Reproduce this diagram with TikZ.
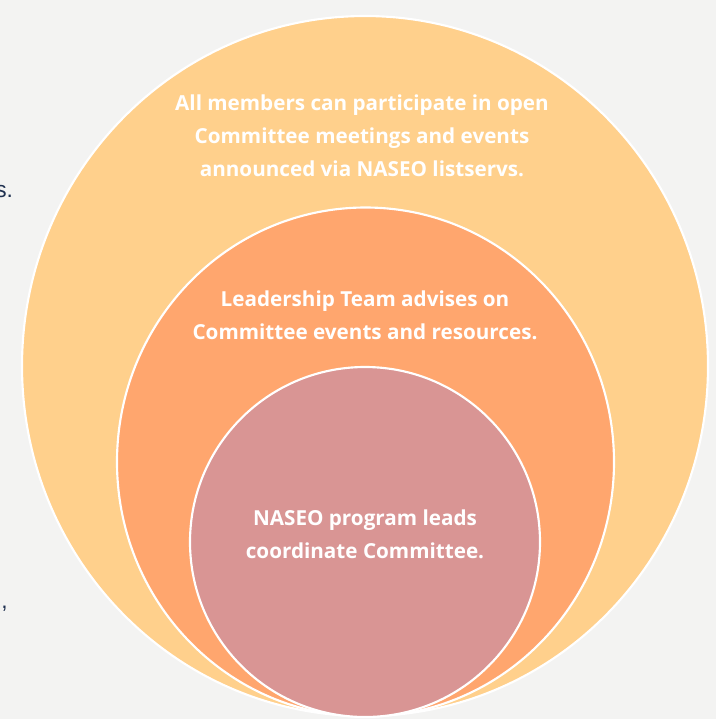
\documentclass[tikz,border=0pt]{standalone}
\usepackage{fontspec}
\setmainfont{Open Sans}
\newfontfamily\fragfont{Liberation Sans}
\definecolor{bgc}{HTML}{F3F3F2}
\definecolor{outerc}{HTML}{FFD08C}
\definecolor{midc}{HTML}{FFA66E}
\definecolor{innerc}{HTML}{D99594}
\definecolor{navy}{HTML}{1F3050}
\tikzset{
  ring/.style={draw=white, line width=1.6pt},
  lbl/.style={text=white, font=\fontsize{15.5}{24.6}\selectfont\bfseries, align=center, inner sep=0pt},
  frag/.style={text=navy, font=\fragfont\fontsize{17}{20}\selectfont, anchor=base west, inner sep=0pt}
}
\begin{document}
\begin{tikzpicture}[x=0.75pt,y=-0.75pt]
\useasboundingbox (0,0) rectangle (716,719);
\clip (0,0) rectangle (716,719);
\fill[bgc] (0,0) rectangle (716,719);
\node[frag] (f1) at (-5,197) {s.};
\node[frag] (f2) at (1,608) {,};
\draw[ring, fill=outerc] (365,366) ellipse [x radius=343, y radius=350];
\draw[ring, fill=midc] (365.5,462) ellipse [x radius=248.5, y radius=254.5];
\draw[ring, fill=innerc] (365,542) ellipse [x radius=175, y radius=175];
\node[lbl] (t1) at (362,136) {All members can participate in open\\Committee meetings and events\\announced via NASEO listservs.};
\node[lbl] (t2) at (365,315.5) {Leadership Team advises on\\Committee events and resources.};
\node[lbl] (t3) at (365,534.5) {NASEO program leads\\coordinate Committee.};
\end{tikzpicture}
\end{document}
